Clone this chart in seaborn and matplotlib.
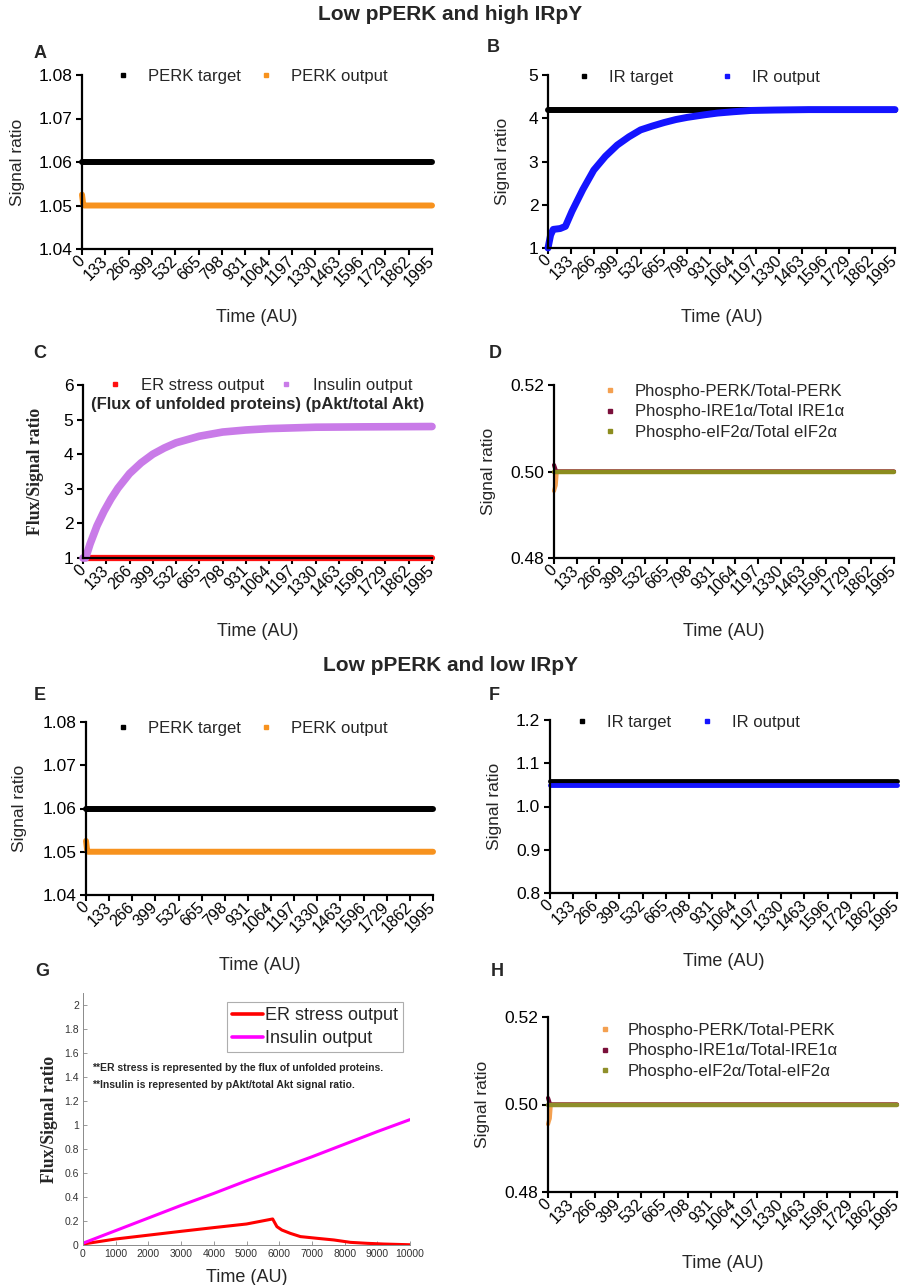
import matplotlib
matplotlib.use("Agg")
import matplotlib.pyplot as plt
import seaborn as sns
from matplotlib.lines import Line2D

sns.set_theme(style="ticks")
plt.rcParams['font.family'] = ['Liberation Sans', 'DejaVu Sans']

# ---------------- data ----------------
time_ticks = [0, 133, 266, 399, 532, 665, 798, 931, 1064, 1197, 1330, 1463, 1596, 1729, 1862, 1995]
time_tick_labels = ["0", "133", "266", "399", "532", "665", "798", "931", "1064", "1197",
                    "1330", "1463", "1596", "1729", "1862", "1995"]

flat_t = [0, 1995]

# Panel A / E
perk_target = [1.06, 1.06]
perk_out_t = [0, 6, 12, 1995]
perk_out = [1.0525, 1.0505, 1.05, 1.05]

# Panel B
ir_target_b = [4.2, 4.2]
ir_out_b_t = [0, 15, 30, 70, 100, 138, 200, 263, 330, 398, 465, 532, 600, 667, 735, 800,
              900, 975, 1064, 1167, 1300, 1500, 1750, 1995]
ir_out_b = [1.0, 1.3, 1.43, 1.45, 1.5, 1.85, 2.35, 2.8, 3.12, 3.38, 3.57, 3.73, 3.82, 3.9,
            3.97, 4.02, 4.08, 4.12, 4.15, 4.18, 4.19, 4.2, 4.2, 4.2]

# Panel C
er_c = [1.0, 1.0]
ins_c_t = [0, 15, 40, 80, 120, 160, 200, 266, 332, 399, 465, 532, 665, 798, 931, 1064,
           1330, 1596, 1995]
ins_c = [1.0, 1.0, 1.4, 1.93, 2.35, 2.71, 3.02, 3.44, 3.75, 4.0, 4.18, 4.33, 4.52, 4.64,
         4.7, 4.74, 4.78, 4.79, 4.8]

# Panel D / H
pperk_t = [0, 5, 10, 16, 1995]
pperk = [0.4955, 0.4962, 0.4968, 0.5, 0.5]
pire_t = [0, 6, 12, 1995]
pire = [0.5015, 0.5008, 0.5, 0.5]
peif = [0.5, 0.5]

# Panel F
ir_target_f = [1.06, 1.06]
ir_out_f = [1.05, 1.05]

# Panel G
g_ticks_x = [0, 1000, 2000, 3000, 4000, 5000, 6000, 7000, 8000, 9000, 10000]
g_ticks_y = [0, 0.2, 0.4, 0.6, 0.8, 1.0, 1.2, 1.4, 1.6, 1.8, 2.0]
g_ticks_y_labels = ["0", "0.2", "0.4", "0.6", "0.8", "1", "1.2", "1.4", "1.6", "1.8", "2"]
er_g_t = [0, 1000, 2000, 3000, 4000, 5000, 5800, 5930, 6080, 6340, 6650, 7150, 7670,
          8180, 8690, 9200, 10000]
er_g = [0.008, 0.05, 0.082, 0.114, 0.145, 0.175, 0.217, 0.153, 0.125, 0.097, 0.07, 0.056,
        0.042, 0.022, 0.014, 0.008, 0.002]
ins_g_t = [0, 1000, 2000, 3000, 4000, 5000, 6000, 7000, 8000, 9000, 10000]
ins_g = [0.015, 0.12, 0.225, 0.33, 0.43, 0.535, 0.635, 0.735, 0.84, 0.945, 1.045]

# ---------------- colours ----------------
C_BLACK = "#000000"
C_ORANGE = "#F7921E"
C_BLUE = "#1414FF"
C_RED = "#FF1010"
C_PURPLE = "#C97BE8"
C_PPERK = "#F4A050"
C_IRE = "#7A0F3A"
C_EIF = "#8C8C1E"
C_MAGENTA = "#FF00FF"

W, H = 901, 1285
fig = plt.figure(figsize=(W / 100, H / 100), dpi=100)


def make_ax(l, t, r, b):
    return fig.add_axes([l / W, 1 - b / H, (r - l) / W, (b - t) / H])


def line(ax, x, y, color, lw, clip=True):
    sns.lineplot(x=x, y=y, ax=ax, color=color, linewidth=lw, legend=False,
                 estimator=None, sort=False)
    if not clip:
        ax.lines[-1].set_clip_on(False)


def excel_style(ax, box, ylim, yticks, ylabels, xlab_y, ylab_x, ylabel="Signal ratio",
                ylab_serif=False):
    l, t, r, b = box
    ax.set_xlim(0, 1995)
    ax.set_ylim(*ylim)
    ax.set_xticks(time_ticks)
    ax.set_xticklabels(time_tick_labels, rotation=45, ha="right", va="center",
                       rotation_mode="anchor", fontsize=11.5)
    ax.set_yticks(yticks)
    ax.set_yticklabels(ylabels, fontsize=12.5)
    for s in ["top", "right"]:
        ax.spines[s].set_visible(False)
    for s in ["left", "bottom"]:
        ax.spines[s].set_linewidth(1.6)
        ax.spines[s].set_color("black")
        ax.spines[s].set_zorder(3)
    ax.tick_params(direction="out", length=4, width=1.5, colors="black", pad=3)
    ax.grid(False)
    ax.set_xlabel("Time (AU)", fontsize=13, va="center")
    ax.xaxis.set_label_coords(0.5, -(xlab_y - b) / (b - t))
    if ylab_serif:
        ax.set_ylabel(ylabel, fontsize=12.7, va="center", family=["Liberation Serif"],
                      fontweight="bold")
    else:
        ax.set_ylabel(ylabel, fontsize=12.5, va="center")
    ax.yaxis.set_label_coords((ylab_x - l) / (r - l), 0.5)


def mk(color, ms=3.5):
    return Line2D([], [], marker="s", ms=ms, ls="none", color=color, mec=color)


# ---------------- Panel A ----------------
boxA = (82, 75, 432, 249)
axA = make_ax(*boxA)
line(axA, flat_t, perk_target, C_BLACK, 4.3, clip=False)
line(axA, perk_out_t, perk_out, C_ORANGE, 4.3, clip=False)
excel_style(axA, boxA, (1.04, 1.08), [1.04, 1.05, 1.06, 1.07, 1.08],
            ["1.04", "1.05", "1.06", "1.07", "1.08"], 318, 18)
axA.legend([mk(C_BLACK), mk(C_ORANGE)], ["PERK target", "PERK output"], ncol=2,
           frameon=False, loc="center left", bbox_to_anchor=(0.069, 0.99), borderpad=0,
           handlelength=1, handletextpad=1.0, columnspacing=1.0, fontsize=12)

# ---------------- Panel B ----------------
boxB = (548, 75, 895, 248)
axB = make_ax(*boxB)
line(axB, flat_t, ir_target_b, C_BLACK, 4.3, clip=False)
line(axB, ir_out_b_t, ir_out_b, C_BLUE, 5, clip=False)
excel_style(axB, boxB, (1, 5), [1, 2, 3, 4, 5], ["1", "2", "3", "4", "5"], 318, 503)
axB.legend([mk(C_BLACK), mk(C_BLUE)], ["IR target", "IR output"], ncol=2,
           frameon=False, loc="center left", bbox_to_anchor=(0.055, 0.988), borderpad=0,
           handlelength=1, handletextpad=1.0, columnspacing=2.75, fontsize=12)

# ---------------- Panel C ----------------
boxC = (83, 385, 432, 558)
axC = make_ax(*boxC)
line(axC, flat_t, er_c, C_RED, 4.5, clip=False)
line(axC, ins_c_t, ins_c, C_PURPLE, 5.5, clip=False)
excel_style(axC, boxC, (1, 6), [1, 2, 3, 4, 5, 6], ["1", "2", "3", "4", "5", "6"], 632, 35,
            ylabel="Flux/Signal ratio", ylab_serif=True)
axC.legend([mk(C_RED), mk(C_PURPLE)], ["ER stress output", "Insulin output"], ncol=2,
           frameon=False, loc="center left", bbox_to_anchor=(0.043, 1.0), borderpad=0,
           handlelength=1, handletextpad=1.1, columnspacing=0.8, fontsize=12)
fig.text(258 / W, 1 - 405 / H, "(Flux of unfolded proteins) (pAkt/total Akt)",
         ha="center", va="center", fontsize=12, fontweight="bold")

# ---------------- Panel D ----------------
boxD = (554, 385, 894, 558)
axD = make_ax(*boxD)
line(axD, pperk_t, pperk, C_PPERK, 3, clip=False)
line(axD, pire_t, pire, C_IRE, 3, clip=False)
line(axD, flat_t, peif, C_EIF, 3.2, clip=False)
excel_style(axD, boxD, (0.48, 0.52), [0.48, 0.50, 0.52], ["0.48", "0.50", "0.52"], 632, 488)
axD.legend([mk(C_PPERK), mk(C_IRE), mk(C_EIF)],
           ["Phospho-PERK/Total-PERK", "Phospho-IRE1α/Total IRE1α", "Phospho-eIF2α/Total eIF2α"],
           frameon=False, loc="center left", bbox_to_anchor=(0.115, 0.844), borderpad=0,
           handlelength=1, handletextpad=1.0, labelspacing=0.35, fontsize=12)

# ---------------- Panel E ----------------
boxE = (86, 722, 433, 895)
axE = make_ax(*boxE)
line(axE, flat_t, perk_target, C_BLACK, 4.3, clip=False)
line(axE, perk_out_t, perk_out, C_ORANGE, 4.3, clip=False)
excel_style(axE, boxE, (1.04, 1.08), [1.04, 1.05, 1.06, 1.07, 1.08],
            ["1.04", "1.05", "1.06", "1.07", "1.08"], 965, 20)
axE.legend([mk(C_BLACK), mk(C_ORANGE)], ["PERK target", "PERK output"], ncol=2,
           frameon=False, loc="center left", bbox_to_anchor=(0.058, 0.965), borderpad=0,
           handlelength=1, handletextpad=1.0, columnspacing=1.0, fontsize=12)

# ---------------- Panel F ----------------
boxF = (550, 720, 897, 893)
axF = make_ax(*boxF)
line(axF, flat_t, ir_target_f, C_BLACK, 3.5, clip=False)
line(axF, flat_t, ir_out_f, C_BLUE, 3.5, clip=False)
excel_style(axF, boxF, (0.8, 1.2), [0.8, 0.9, 1.0, 1.1, 1.2],
            ["0.8", "0.9", "1.0", "1.1", "1.2"], 962, 495)
axF.legend([mk(C_BLACK), mk(C_BLUE)], ["IR target", "IR output"], ncol=2,
           frameon=False, loc="center left", bbox_to_anchor=(0.043, 0.988), borderpad=0,
           handlelength=1, handletextpad=1.0, columnspacing=1.7, fontsize=12)

# ---------------- Panel G ----------------
boxG = (83, 993, 410, 1245)
axG = make_ax(*boxG)
line(axG, er_g_t, er_g, "#FF0000", 2.2)
line(axG, ins_g_t, ins_g, C_MAGENTA, 2.2)
axG.set_xlim(0, 10000)
axG.set_ylim(0, 2.1)
axG.set_xticks(g_ticks_x)
axG.set_xticklabels([str(v) for v in g_ticks_x], fontsize=7.5, color="#333333")
axG.set_yticks(g_ticks_y)
axG.set_yticklabels(g_ticks_y_labels, fontsize=7.5, color="#333333")
for s in ["top", "right"]:
    axG.spines[s].set_visible(False)
for s in ["left", "bottom"]:
    axG.spines[s].set_linewidth(0.7)
    axG.spines[s].set_color("#8a8a8a")
axG.tick_params(direction="in", length=3, width=0.6, color="#8a8a8a", pad=3)
axG.grid(False)
axG.set_xlabel("Time (AU)", fontsize=13, va="center")
axG.xaxis.set_label_coords(0.5, -(1277 - 1245) / (1245 - 993))
axG.set_ylabel("Flux/Signal ratio", fontsize=12.7, va="center",
               family=["Liberation Serif"], fontweight="bold")
axG.yaxis.set_label_coords((50 - 83) / (410 - 83), 0.5)
legG = axG.legend([Line2D([], [], color="#FF0000", lw=2.6), Line2D([], [], color=C_MAGENTA, lw=2.6)],
                  ["ER stress output", "Insulin output"], loc="upper right",
                  bbox_to_anchor=(0.979, 0.964), frameon=True, fancybox=False,
                  borderpad=0.3, handlelength=1.7, handletextpad=0.1, labelspacing=0.3,
                  fontsize=13, borderaxespad=0)
legG.get_frame().set_edgecolor("#9a9a9a")
legG.get_frame().set_linewidth(0.8)
fig.text(92 / W, 1 - 1068 / H, "**ER stress is represented by the flux of unfolded proteins.",
         ha="left", va="center", fontsize=7.5, fontweight="bold")
fig.text(92 / W, 1 - 1085 / H, "**Insulin is represented by pAkt/total Akt signal ratio.",
         ha="left", va="center", fontsize=7.5, fontweight="bold")

# ---------------- Panel H ----------------
boxH = (548, 1017, 897, 1192)
axH = make_ax(*boxH)
line(axH, pperk_t, pperk, C_PPERK, 3, clip=False)
line(axH, pire_t, pire, C_IRE, 3, clip=False)
line(axH, flat_t, peif, "#8F8F2A", 3.2, clip=False)
excel_style(axH, boxH, (0.48, 0.52), [0.48, 0.50, 0.52], ["0.48", "0.50", "0.52"], 1263, 482)
axH.legend([mk(C_PPERK), mk(C_IRE), mk("#8F8F2A")],
           ["Phospho-PERK/Total-PERK", "Phospho-IRE1α/Total-IRE1α", "Phospho-eIF2α/Total-eIF2α"],
           frameon=False, loc="center left", bbox_to_anchor=(0.117, 0.806), borderpad=0,
           handlelength=1, handletextpad=0.85, labelspacing=0.35, fontsize=12)

# ---------------- titles & panel letters ----------------
fig.text(0.5, 1 - 15 / H, "Low pPERK and high IRpY", ha="center", va="center",
         fontsize=15, fontweight="bold")
fig.text(0.5, 1 - 665 / H, "Low pPERK and low IRpY", ha="center", va="center",
         fontsize=15, fontweight="bold")
for letter, (px, py) in {"A": (40, 53), "B": (493, 47), "C": (40, 353), "D": (495, 353),
                         "E": (40, 695), "F": (494, 695), "G": (42, 972), "H": (497, 972)}.items():
    fig.text(px / W, 1 - py / H, letter, ha="center", va="center", fontsize=13,
             fontweight="bold")

fig.savefig("out.png", dpi=100)
